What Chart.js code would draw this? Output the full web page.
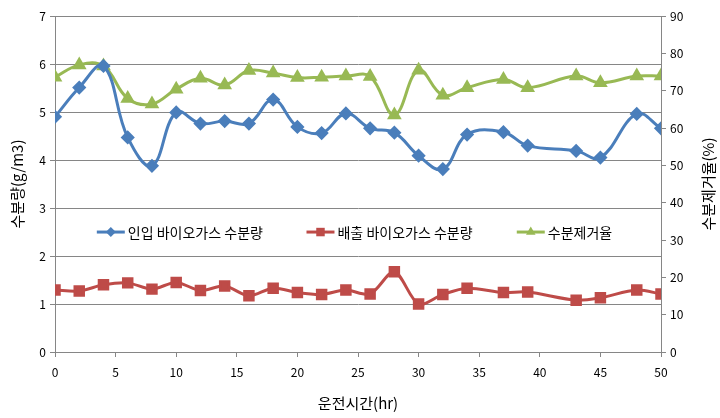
<!DOCTYPE html>
<html>
<head>
<meta charset="utf-8">
<script src="https://cdn.jsdelivr.net/npm/chart.js@4.4.1/dist/chart.umd.min.js"></script>
<style>
  html, body { margin: 0; padding: 0; background: #ffffff; }
  #wrap { width: 720px; height: 418px; position: relative; }
</style>
</head>
<body>
<div id="wrap"><canvas id="c" width="720" height="418"></canvas></div>
<script>
// ---- data ----
const hours = [0, 2, 4, 6, 8, 10, 12, 14, 16, 18, 20, 22, 24, 26, 28, 30, 32, 34, 37, 39, 43, 45, 48, 50];
const inletMoisture = [4.90, 5.51, 5.96, 4.47, 3.88, 4.99, 4.76, 4.81, 4.76, 5.26, 4.69, 4.56, 4.97, 4.66, 4.57, 4.09, 3.81, 4.53, 4.58, 4.30, 4.19, 4.05, 4.96, 4.66];
const outletMoisture = [1.29, 1.27, 1.40, 1.44, 1.31, 1.45, 1.28, 1.375, 1.17, 1.33, 1.24, 1.20, 1.29, 1.21, 1.67, 1.00, 1.20, 1.33, 1.24, 1.25, 1.08, 1.13, 1.29, 1.21];
const removalRate = [73.6, 76.9, 76.6, 67.9, 66.4, 70.4, 73.3, 71.5, 75.4, 74.7, 73.5, 73.6, 73.9, 73.8, 63.5, 75.5, 68.8, 70.8, 73.0, 70.8, 73.9, 72.1, 73.9, 73.9];

const seriesNames = ['인입 바이오가스 수분량', '배출 바이오가스 수분량', '수분제거율'];
const xTitle = '운전시간(hr)';
const yLeftTitle = '수분량(g/m3)';
const yRightTitle = '수분제거율(%)';

const BLUE = '#4A7EBB', RED = '#BE4B48', GREEN = '#98B954';
const AXIS = '#868686';
const FONT = "'Noto Sans CJK KR', 'Noto Sans', sans-serif";

function pts(ys) { return hours.map((h, i) => ({ x: h, y: ys[i] })); }

const legendPlugin = {
  id: 'innerLegend',
  afterDraw(chart) {
    const ctx = chart.ctx;
    const ca = chart.chartArea;
    const y = ca.top + (ca.bottom - ca.top) * 0.643;
    const starts = [0.069, 0.415, 0.762];
    ctx.save();
    chart.data.datasets.forEach((ds, i) => {
      const x0 = ca.left + (ca.right - ca.left) * starts[i];
      const x1 = x0 + 28;
      ctx.strokeStyle = ds.borderColor;
      ctx.lineWidth = 3;
      ctx.beginPath(); ctx.moveTo(x0, y); ctx.lineTo(x1, y); ctx.stroke();
      ctx.fillStyle = ds.borderColor;
      Chart.helpers.drawPoint(ctx, {
        pointStyle: ds.pointStyle, radius: ds.pointRadius, rotation: 0, borderWidth: 0
      }, (x0 + x1) / 2, y);
      ctx.fillStyle = '#000';
      ctx.font = '14px ' + FONT;
      ctx.textBaseline = 'middle';
      ctx.textAlign = 'left';
      ctx.fillText(ds.label, x1 + 3, y + 1);
    });
    // right axis title, reading bottom to top
    const yr = chart.scales.yR;
    ctx.translate(yr.right - 12, (ca.top + ca.bottom) / 2);
    ctx.rotate(-Math.PI / 2);
    ctx.font = '15px ' + FONT;
    ctx.textAlign = 'center';
    ctx.textBaseline = 'middle';
    ctx.fillStyle = '#000';
    ctx.fillText(yRightTitle, 0, 0);
    ctx.restore();
  }
};

new Chart(document.getElementById('c'), {
  type: 'line',
  data: {
    datasets: [
      { label: seriesNames[0], data: pts(inletMoisture), yAxisID: 'yL',
        borderColor: BLUE, backgroundColor: BLUE, pointBackgroundColor: BLUE, pointBorderColor: BLUE,
        pointStyle: 'rectRot', pointRadius: 5, borderWidth: 3, tension: 0.4 },
      { label: seriesNames[1], data: pts(outletMoisture), yAxisID: 'yL',
        borderColor: RED, backgroundColor: RED, pointBackgroundColor: RED, pointBorderColor: RED,
        pointStyle: 'rect', pointRadius: 6, borderWidth: 3, tension: 0.3 },
      { label: seriesNames[2], data: pts(removalRate), yAxisID: 'yR',
        borderColor: GREEN, backgroundColor: GREEN, pointBackgroundColor: GREEN, pointBorderColor: GREEN,
        pointStyle: 'triangle', pointRadius: 5.5, borderWidth: 3, tension: 0.4 }
    ]
  },
  options: {
    responsive: false,
    animation: false,
    layout: { padding: { top: 16, left: 0, right: 0, bottom: 0 } },
    plugins: { legend: { display: false }, tooltip: { enabled: false } },
    scales: {
      x: {
        type: 'linear', min: 0, max: 50,
        afterFit(s) { s.height = 66; },
        ticks: { stepSize: 5, color: '#000', padding: 8, font: { family: FONT, size: 12 } },
        grid: { drawOnChartArea: false, drawTicks: true, tickLength: 5, color: AXIS },
        border: { color: AXIS, width: 1 },
        title: { display: true, text: xTitle, color: '#000', font: { family: FONT, size: 15 }, padding: { top: 4, bottom: 6 } }
      },
      yL: {
        position: 'left', min: 0, max: 7,
        afterFit(s) { s.width = 55; },
        ticks: { stepSize: 1, color: '#000', padding: 4, font: { family: FONT, size: 12 } },
        grid: { color: AXIS, tickLength: 5 },
        border: { color: AXIS, width: 1 },
        title: { display: true, text: yLeftTitle, color: '#000', font: { family: FONT, size: 15 }, padding: { top: 8, bottom: 2 } }
      },
      yR: {
        position: 'right', min: 0, max: 90,
        afterFit(s) { s.width = 59; },
        ticks: { stepSize: 10, color: '#000', padding: 4, font: { family: FONT, size: 12 } },
        grid: { drawOnChartArea: false, color: AXIS, tickLength: 5 },
        border: { color: AXIS, width: 1 },
        title: { display: false, text: yRightTitle }
      }
    }
  },
  plugins: [legendPlugin]
});
</script>
</body>
</html>
